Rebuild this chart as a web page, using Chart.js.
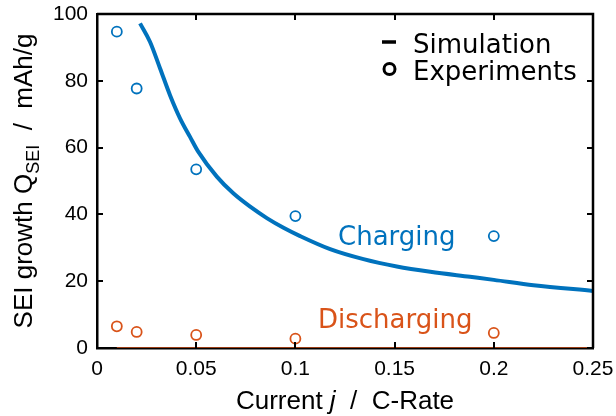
<!DOCTYPE html>
<html>
<head>
<meta charset="utf-8">
<script src="https://cdn.jsdelivr.net/npm/chart.js@4/dist/chart.umd.min.js"></script>
<style>
  html, body { margin: 0; padding: 0; background: #fff; }
  canvas { display: block; }
</style>
</head>
<body>
<canvas id="chart" width="616" height="416"></canvas>
<script>
// Axis ticks
const xTicks = [0, 0.05, 0.1, 0.15, 0.2, 0.25];
const xTickLabels = ['0', '0.05', '0.1', '0.15', '0.2', '0.25'];
const yTicks = [0, 20, 40, 60, 80, 100];
const yTickLabels = ['0', '20', '40', '60', '80', '100'];

// Experiments (circles)
const expRates = [0.01, 0.02, 0.05, 0.1, 0.2];
const expCharging = [94.7, 77.7, 53.5, 39.5, 33.5];
const expDischarging = [6.5, 4.8, 3.9, 2.8, 4.5];

// Simulation (lines)
const simChargeRates = [0.0217, 0.0267, 0.0318, 0.0368, 0.0419, 0.0469, 0.0511, 0.0604, 0.0687, 0.0772, 0.0856, 0.094, 0.1024, 0.1175, 0.1343, 0.1511, 0.168, 0.188, 0.2, 0.22, 0.25];
const simCharging = [97.2, 91.7, 83.7, 75.7, 68.7, 63.2, 58.7, 51.3, 46.3, 42.3, 38.9, 36.0, 33.5, 29.6, 26.6, 24.4, 22.8, 21.3, 20.4, 18.8, 17.1];
const simDischargeRates = [0.01, 0.25];
const simDischarging = [0, 0];

const BLUE = '#0072BD';
const ORANGE = '#D95319';
const AXIS_FONT = '"Liberation Sans", Arial, sans-serif';
const TEXT_FONT = '"DejaVu Sans", Verdana, sans-serif';

const toPoints = (xs, ys) => xs.map((x, i) => ({ x: x, y: ys[i] }));

// Box, inward ticks, axis titles, legend and labels
const decorations = {
    id: 'decorations',
    afterDatasetsDraw(chart) {
        const { ctx, chartArea: a, scales } = chart;
        ctx.save();

        // top / right edges of the box
        ctx.strokeStyle = '#000';
        ctx.lineWidth = 2.5;
        ctx.beginPath();
        ctx.moveTo(a.left, a.top);
        ctx.lineTo(a.right, a.top);
        ctx.lineTo(a.right, a.bottom);
        ctx.stroke();

        // tick marks pointing inward
        ctx.lineWidth = 2;
        const tl = 6;
        ctx.beginPath();
        xTicks.forEach(v => {
            const px = Math.round(scales.x.getPixelForValue(v));
            ctx.moveTo(px, a.bottom); ctx.lineTo(px, a.bottom - tl);
            ctx.moveTo(px, a.top); ctx.lineTo(px, a.top + tl);
        });
        yTicks.forEach(v => {
            const py = Math.round(scales.y.getPixelForValue(v));
            ctx.moveTo(a.left, py); ctx.lineTo(a.left + tl, py);
            ctx.moveTo(a.right, py); ctx.lineTo(a.right - tl, py);
        });
        ctx.stroke();

        // x axis title
        ctx.fillStyle = '#000';
        ctx.textBaseline = 'alphabetic';
        ctx.textAlign = 'left';
        const xParts = [
            { t: 'Current ', f: '26px ' + AXIS_FONT },
            { t: 'j', f: 'italic 26px ' + AXIS_FONT },
            { t: '  /  C-Rate', f: '26px ' + AXIS_FONT }
        ];
        let w = 0;
        xParts.forEach(p => { ctx.font = p.f; w += ctx.measureText(p.t).width; });
        let cx = (a.left + a.right) / 2 - w / 2;
        xParts.forEach(p => {
            ctx.font = p.f;
            ctx.fillText(p.t, cx, 409);
            cx += ctx.measureText(p.t).width;
        });

        // y axis title (rotated, with subscript)
        const yParts = [
            { t: 'SEI growth Q', f: '26px ' + AXIS_FONT, dy: 0 },
            { t: 'SEI', f: '18px ' + AXIS_FONT, dy: 7 },
            { t: '  /  mAh/g', f: '26px ' + AXIS_FONT, dy: 0 }
        ];
        w = 0;
        yParts.forEach(p => { ctx.font = p.f; w += ctx.measureText(p.t).width; });
        ctx.save();
        ctx.translate(31.5, (a.top + a.bottom) / 2);
        ctx.rotate(-Math.PI / 2);
        cx = -w / 2;
        yParts.forEach(p => {
            ctx.font = p.f;
            ctx.fillText(p.t, cx, p.dy);
            cx += ctx.measureText(p.t).width;
        });
        ctx.restore();

        // legend
        ctx.font = '26px ' + TEXT_FONT;
        ctx.fillText('Simulation', 413, 53);
        ctx.fillText('Experiments', 413, 80);
        ctx.lineWidth = 3.5;
        ctx.beginPath();
        ctx.moveTo(382, 42); ctx.lineTo(396, 42);
        ctx.stroke();
        ctx.lineWidth = 3;
        ctx.beginPath();
        ctx.arc(389.5, 69, 5.5, 0, Math.PI * 2);
        ctx.stroke();

        // curve labels
        ctx.fillStyle = BLUE;
        ctx.fillText('Charging', 338, 245);
        ctx.fillStyle = ORANGE;
        ctx.fillText('Discharging', 318, 328);

        ctx.restore();
    }
};

function fixedTicks(values) {
    return scale => { scale.ticks = values.map(v => ({ value: v })); };
}

// keep the plot box where the layout padding puts it
function noLabelOverflow(scale) {
    scale.paddingTop = 0;
    scale.paddingBottom = 0;
    scale.paddingLeft = 0;
    scale.paddingRight = 0;
}

new Chart(document.getElementById('chart'), {
    type: 'line',
    data: {
        datasets: [
            {
                label: 'Simulation charging',
                data: toPoints(simChargeRates, simCharging),
                borderColor: BLUE,
                borderWidth: 4,
                pointRadius: 0,
                cubicInterpolationMode: 'monotone',
                fill: false
            },
            {
                label: 'Simulation discharging',
                data: toPoints(simDischargeRates, simDischarging),
                borderColor: '#9a3d15',
                borderWidth: 2,
                pointRadius: 0,
                fill: false
            },
            {
                label: 'Experiments charging',
                data: toPoints(expRates, expCharging),
                showLine: false,
                pointStyle: 'circle',
                pointRadius: 5,
                pointBorderWidth: 1.8,
                pointBorderColor: BLUE,
                pointBackgroundColor: 'rgba(0,0,0,0)'
            },
            {
                label: 'Experiments discharging',
                data: toPoints(expRates, expDischarging),
                showLine: false,
                pointStyle: 'circle',
                pointRadius: 5,
                pointBorderWidth: 1.8,
                pointBorderColor: ORANGE,
                pointBackgroundColor: 'rgba(0,0,0,0)'
            }
        ]
    },
    options: {
        responsive: false,
        animation: false,
        devicePixelRatio: 1,
        layout: { padding: { top: 14, right: 23, left: 0, bottom: 0 } },
        plugins: {
            legend: { display: false },
            tooltip: { enabled: false }
        },
        scales: {
            x: {
                type: 'linear',
                min: 0,
                max: 0.25,
                afterBuildTicks: fixedTicks(xTicks),
                afterFit: scale => { scale.height = 68; noLabelOverflow(scale); },
                grid: { display: false, drawTicks: false },
                border: { display: true, color: '#000', width: 2.5 },
                ticks: {
                    maxRotation: 0,
                    padding: 9,
                    color: '#000',
                    font: { family: AXIS_FONT, size: 21 },
                    callback: (v, i) => xTickLabels[i]
                }
            },
            y: {
                type: 'linear',
                min: 0,
                max: 100,
                afterBuildTicks: fixedTicks(yTicks),
                afterFit: scale => { scale.width = 97; noLabelOverflow(scale); },
                grid: { display: false, drawTicks: false },
                border: { display: true, color: '#000', width: 2.5 },
                ticks: {
                    padding: 9,
                    color: '#000',
                    font: { family: AXIS_FONT, size: 21 },
                    callback: (v, i) => yTickLabels[i]
                }
            }
        }
    },
    plugins: [decorations]
});
</script>
</body>
</html>
